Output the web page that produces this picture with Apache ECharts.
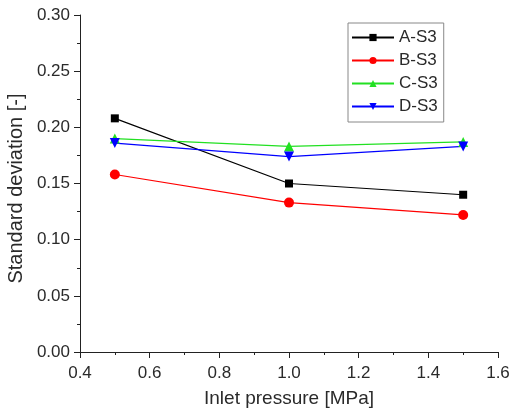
<!DOCTYPE html>
<html>
<head>
<meta charset="utf-8">
<script src="https://cdn.jsdelivr.net/npm/echarts@6/dist/echarts.min.js"></script>
<style>
  html, body { margin: 0; padding: 0; background: #fff; }
  #chart { width: 513px; height: 414px; }
</style>
</head>
<body>
<div id="chart"></div>
<script>
// inlet pressure values (MPa)
var pressure = [0.5, 1.0, 1.5];
var seriesNames = ['A-S3', 'B-S3', 'C-S3', 'D-S3'];
var valuesA = [0.208, 0.150, 0.140];
var valuesB = [0.158, 0.133, 0.122];
var valuesC = [0.190, 0.183, 0.187];
var valuesD = [0.186, 0.174, 0.183];
var colors = ['#000000', '#ff0000', '#22e022', '#0000ff'];
var symbols = ['rect', 'circle', 'triangle', 'path://M0,0 L10,0 L5,9 Z'];

function pairs(vals) {
    var out = [];
    for (var i = 0; i < pressure.length; i++) {
        out.push([pressure[i], vals[i]]);
    }
    return out;
}

var allValues = [valuesA, valuesB, valuesC, valuesD];
var series = [];
for (var i = 0; i < seriesNames.length; i++) {
    series.push({
        name: seriesNames[i],
        type: 'line',
        data: pairs(allValues[i]),
        symbol: symbols[i],
        symbolSize: i == 0 ? 8 : 10,
        lineStyle: { color: colors[i], width: 1.2 },
        itemStyle: { color: colors[i] },
        animation: false
    });
}

var font = '"Liberation Sans", Arial, sans-serif';
var txt = '#2a2a2a';
var chart = echarts.init(document.getElementById('chart'));
var option = {
    textStyle: { fontFamily: font },
    grid: { left: 80, right: 15, top: 15, bottom: 62, containLabel: false, outerBoundsMode: 'none' },
    legend: {
        orient: 'vertical',
        left: 348,
        top: 23,
        itemWidth: 42,
        itemHeight: 9,
        itemGap: 6,
        padding: [6, 6, 7, 3],
        borderColor: '#888',
        borderWidth: 1,
        textStyle: { fontSize: 17, color: txt, fontFamily: font },
        data: seriesNames
    },
    xAxis: {
        type: 'value',
        min: 0.4,
        max: 1.6,
        interval: 0.2,
        name: 'Inlet pressure [MPa]',
        nameLocation: 'middle',
        nameGap: 37,
        nameTextStyle: { fontSize: 19, color: txt, fontFamily: font },
        axisLine: { lineStyle: { color: '#222' } },
        axisTick: { inside: false, length: 6, lineStyle: { color: '#222' } },
        minorTick: { show: true, splitNumber: 2, length: 3, lineStyle: { color: '#222' } },
        splitLine: { show: false },
        axisLabel: { fontSize: 17, color: txt, margin: 13, fontFamily: font,
            formatter: function (v) { return v.toFixed(1); } }
    },
    yAxis: {
        type: 'value',
        min: 0,
        max: 0.30,
        interval: 0.05,
        name: 'Standard deviation [-]',
        nameLocation: 'middle',
        nameGap: 51,
        nameTextStyle: { fontSize: 20, color: txt, fontFamily: font, padding: [0, 10, 0, 0] },
        axisLine: { show: true, lineStyle: { color: '#222' } },
        axisTick: { show: true, inside: false, length: 6, lineStyle: { color: '#222' } },
        minorTick: { show: true, splitNumber: 2, length: 3, lineStyle: { color: '#222' } },
        splitLine: { show: false },
        axisLabel: { fontSize: 17, color: txt, margin: 10, fontFamily: font,
            formatter: function (v) { return v.toFixed(2); } }
    },
    series: series
};
chart.setOption(option);
</script>
</body>
</html>
